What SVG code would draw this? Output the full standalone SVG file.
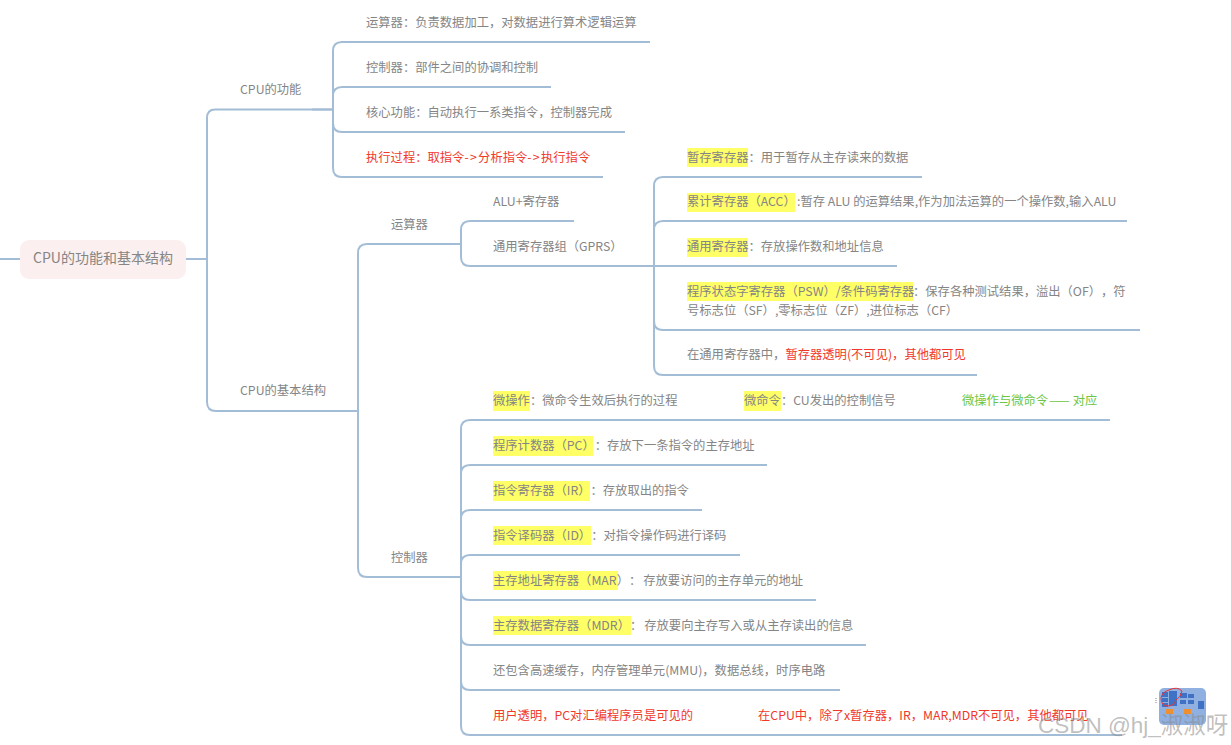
<svg xmlns="http://www.w3.org/2000/svg" width="1231" height="745" viewBox="0 0 1231 745">
<style>
text{font-family:"Noto Sans CJK SC","Noto Sans",sans-serif;font-size:12.3px;fill:#858585;text-spacing-trim:space-all}
.r{fill:#f0392b}.g{fill:#6cc644}
.root{font-size:14px}
.hl{fill:#ffff66}
.c{fill:none;stroke:#a3bdd6;stroke-width:2}
.ar{letter-spacing:1.3px}
.wm{font-family:"Liberation Sans","Noto Sans CJK SC",sans-serif;font-size:22.500px;fill:#8a8a8a;fill-opacity:.55}
.bd{fill:#3f72c4}.or{fill:#ee9030}
</style>
<rect width="1231" height="745" fill="#fff"/>
<g id="connectors" class="c">
<path d="M0 259H20M186 259H207"/>
<path d="M332 109.500H215Q207 109.500 207 118V402Q207 411 216 411H358"/>
<path d="M650 42H342Q333 42 333 51V168Q333 177 342 177H603"/>
<path d="M551 87H342Q333 87 333 96V123Q333 132 342 132H625"/>
<path d="M312 109.500H333"/>
<path d="M461 244H367Q358 244 358 253V568Q358 577 367 577H461"/>
<path d="M574 221H470Q461 221 461 230V257Q461 266 470 266H654"/>
<path d="M922 177H663Q654 177 654 186V366Q654 375 663 375H977"/>
<path d="M1127 221H663Q654 221 654 230V321Q654 330 663 330H1140"/>
<path d="M634 266H897"/>
<path d="M1110 420H470Q461 420 461 429V726Q461 735 470 735H1122"/>
<path d="M767 465H470Q461 465 461 474V681Q461 690 470 690H840"/>
<path d="M702 510H470Q461 510 461 519V636Q461 645 470 645H866"/>
<path d="M740 555H470Q461 555 461 564V591Q461 600 470 600H816"/>
</g>
<g id="root"><rect x="20" y="240" width="166" height="39" rx="9" fill="#fbf0ef"/><text class="root" x="33" y="263">CPU的功能和基本结构</text></g>
<g id="n-func"><text x="240" y="94">CPU的功能</text></g>
<g id="n-struct"><text x="240" y="395">CPU的基本结构</text></g>
<g id="n-f1"><text x="366" y="27">运算器：负责数据加工，对数据进行算术逻辑运算</text></g>
<g id="n-f2"><text x="366" y="72">控制器：部件之间的协调和控制</text></g>
<g id="n-f3"><text x="366" y="117">核心功能：自动执行一系类指令，控制器完成</text></g>
<g id="n-f4"><text class="r" x="366" y="162">执行过程：取指令<tspan class="ar">-&gt;</tspan>分析指令<tspan class="ar">-&gt;</tspan>执行指令</text></g>
<g id="n-alu"><text x="391" y="229">运算器</text></g>
<g id="n-a1"><text x="493" y="206">ALU+寄存器</text></g>
<g id="n-a2"><text x="493" y="251">通用寄存器组（GPRS）</text></g>
<g id="n-r1"><rect class="hl" x="687" y="148" width="61" height="19"/><text x="687" y="162">暂存寄存器：用于暂存从主存读来的数据</text></g>
<g id="n-r2"><rect class="hl" x="687" y="193" width="108" height="19"/><text x="687" y="206">累计寄存器（ACC）</text><text x="797" y="206">:暂存 ALU 的运算结果,作为加法运算的一个操作数,输入ALU</text></g>
<g id="n-r3"><rect class="hl" x="687" y="238" width="61" height="19"/><text x="687" y="251">通用寄存器：存放操作数和地址信息</text></g>
<g id="n-r4"><rect class="hl" x="687" y="282" width="226" height="19"/><text x="687" y="296">程序状态字寄存器（PSW）/条件码寄存器</text><text x="913" y="296">：保存各种测试结果，溢出（OF），符</text><text x="687" y="315">号标志位（SF）,零标志位（ZF）,进位标志（CF）</text></g>
<g id="n-r5"><text x="687" y="359">在通用寄存器中，<tspan class="r">暂存器透明(不可见)，其他都可见</tspan></text></g>
<g id="n-ctl"><text x="391" y="562">控制器</text></g>
<g id="n-c1"><rect class="hl" x="493" y="391" width="37" height="20"/><text x="493" y="405">微操作：微命令生效后执行的过程</text><rect class="hl" x="744" y="391" width="37" height="20"/><text x="744" y="405">微命令：CU发出的控制信号</text><text class="g" x="962" y="405">微操作与微命令<tspan dx="1">——</tspan><tspan dx="3">对应</tspan></text></g>
<g id="n-c2"><rect class="hl" x="493" y="436" width="100" height="20"/><text x="493" y="450">程序计数器（PC）：存放下一条指令的主存地址</text></g>
<g id="n-c3"><rect class="hl" x="493" y="481" width="97" height="20"/><text x="493" y="495">指令寄存器（IR）：存放取出的指令</text></g>
<g id="n-c4"><rect class="hl" x="493" y="526" width="98" height="19"/><text x="493" y="540">指令译码器（ID）：对指令操作码进行译码</text></g>
<g id="n-c5"><rect class="hl" x="493" y="571" width="125" height="19"/><text x="493" y="585">主存地址寄存器（MAR）：<tspan dx="2">存放要访问的主存单元的地址</tspan></text></g>
<g id="n-c6"><rect class="hl" x="493" y="616" width="138" height="19"/><text x="493" y="630">主存数据寄存器（MDR）：<tspan dx="2">存放要向主存写入或从主存读出的信息</tspan></text></g>
<g id="n-c7"><text x="493" y="675">还包含高速缓存，内存管理单元(MMU)，数据总线，时序电路</text></g>
<g id="n-c8"><text class="r" x="493" y="720">用户透明，PC对汇编程序员是可见的</text><text class="r" x="758" y="720">在CPU中，除了x暂存器，IR，MAR,MDR不可见，其他都可见</text></g>
<g id="thumb"><rect x="1159" y="688" width="47" height="37" rx="5" fill="#8fb0e0"/><rect class="bd" x="1162" y="692" width="6" height="5"/><rect class="bd" x="1162" y="698" width="6" height="4"/><rect class="bd" x="1162" y="703" width="6" height="4"/><rect class="bd" x="1169" y="691" width="8" height="15"/><rect class="bd" x="1180" y="693" width="7" height="5"/><rect class="bd" x="1188" y="694" width="6" height="4"/><rect class="bd" x="1180" y="700" width="6" height="4"/><rect class="bd" x="1188" y="700" width="6" height="4"/><rect class="bd" x="1198" y="701" width="6" height="8"/><rect class="or" x="1166" y="709" width="7" height="5"/><rect class="or" x="1184" y="709" width="7" height="5"/><path d="M1169 690Q1177 686 1182 691Q1181 697 1176 700Q1174 706 1168 706Q1161 706 1161 698Q1162 692 1169 690Z" fill="none" stroke="#e33" stroke-width="1"/><path d="M1156 698v.8M1156 700v.8M1156 702v.8" stroke="#666" stroke-width="1"/></g>
<text class="wm" x="1038" y="733">CSDN @hj_淑淑呀</text>
</svg>
